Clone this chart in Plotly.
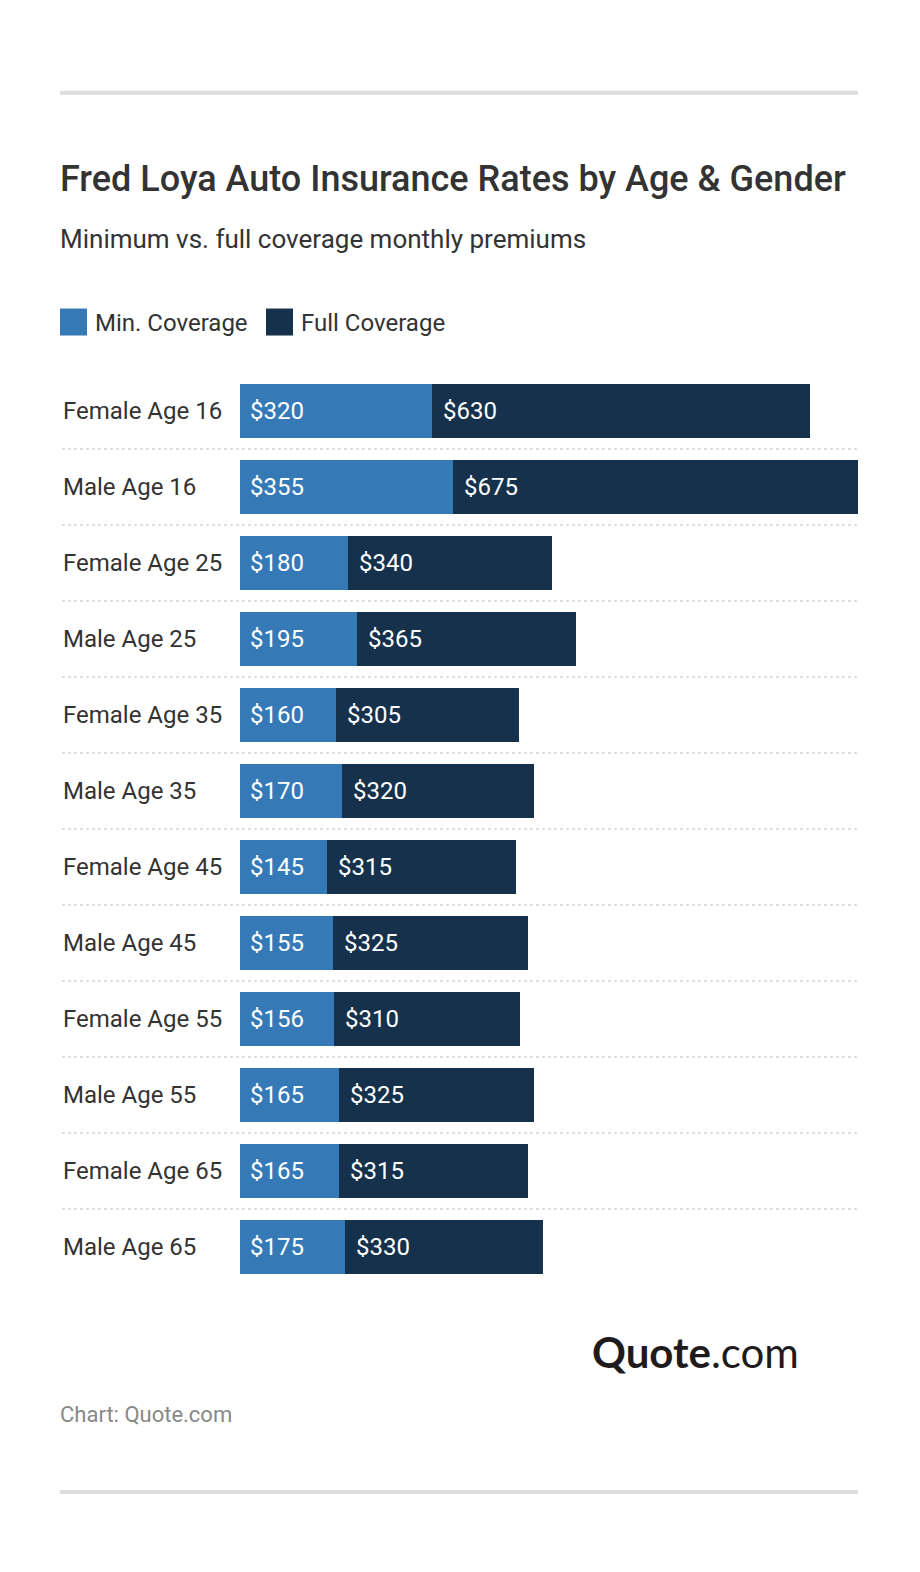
import plotly.graph_objects as go

categories = ["Female Age 16", "Male Age 16", "Female Age 25", "Male Age 25",
              "Female Age 35", "Male Age 35", "Female Age 45", "Male Age 45",
              "Female Age 55", "Male Age 55", "Female Age 65", "Male Age 65"]
min_coverage = [320, 355, 180, 195, 160, 170, 145, 155, 156, 165, 165, 175]
full_coverage = [630, 675, 340, 365, 305, 320, 315, 325, 310, 325, 315, 330]
series_names = ["Min. Coverage", "Full Coverage"]
colors = ["#357ab7", "#15314b"]

OFF = 8  # page body margin
W, H = 920 - 2 * OFF, 1572 - 2 * OFF
L, R = 240 - OFF, 858 - OFF
T, B = 372.5 - OFF, 1285 - OFF

def px(x):
    return (x - OFF - L) / (R - L)

def py(y):
    return (B - (y - OFF)) / (B - T)

fig = go.Figure()
fig.add_trace(go.Bar(y=categories, x=min_coverage, name=series_names[0], orientation="h",
                     marker=dict(color=colors[0], line=dict(width=0)), width=0.7,
                     hoverinfo="x+y"))
fig.add_trace(go.Bar(y=categories, x=full_coverage, name=series_names[1], orientation="h",
                     marker=dict(color=colors[1], line=dict(width=0)), width=0.7,
                     hoverinfo="x+y"))

font = "Roboto, 'Noto Sans', sans-serif"
ann = []
shapes = []
for i, c in enumerate(categories):
    ann.append(dict(x=px(61), xref="paper", y=c, yref="y", text=c, showarrow=False,
                    xanchor="left", yanchor="middle", font=dict(family=font, size=24, color="#333333")))
    ann.append(dict(x=0, xref="x", y=c, yref="y", text=f"${min_coverage[i]}", showarrow=False,
                    xanchor="left", yanchor="middle", xshift=8,
                    font=dict(family=font, size=24, color="#ffffff")))
    ann.append(dict(x=min_coverage[i], xref="x", y=c, yref="y", text=f"${full_coverage[i]}", showarrow=False,
                    xanchor="left", yanchor="middle", xshift=9,
                    font=dict(family=font, size=24, color="#ffffff")))
    if i < len(categories) - 1:
        shapes.append(dict(type="line", xref="paper", yref="y", x0=px(62), x1=px(858),
                           y0=i + 0.5, y1=i + 0.5,
                           line=dict(color="#d6d6d6", width=1.5, dash="dot")))

# rules
for yy in (92, 1492):
    shapes.append(dict(type="line", xref="paper", yref="paper", x0=px(60), x1=px(858),
                       y0=py(yy), y1=py(yy), line=dict(color="#dddddd", width=4)))

# legend
leg = [(60, 93), (266, 299)]
for k, (sx, tx) in enumerate(leg):
    shapes.append(dict(type="rect", xref="paper", yref="paper", x0=px(sx), x1=px(sx + 27),
                       y0=py(335), y1=py(308), fillcolor=colors[k], line=dict(width=0)))
    ann.append(dict(x=px(tx), xref="paper", y=py(322), yref="paper", text=series_names[k], showarrow=False,
                    xanchor="left", yanchor="middle", font=dict(family=font, size=24, color="#333333")))

ann.append(dict(x=px(58), xref="paper", y=py(178), yref="paper",
                text="Fred Loya Auto Insurance Rates by Age & Gender", showarrow=False,
                xanchor="left", yanchor="middle",
                font=dict(family=font, size=36, color="#333333", weight=500)))
ann.append(dict(x=px(58), xref="paper", y=py(238), yref="paper",
                text="Minimum vs. full coverage monthly premiums", showarrow=False,
                xanchor="left", yanchor="middle", font=dict(family=font, size=26, color="#333333")))
ann.append(dict(x=px(801), xref="paper", y=py(1352), yref="paper",
                text="<b>Quote</b>.com", showarrow=False,
                xanchor="right", yanchor="middle", font=dict(family="Lato, sans-serif", size=42, color="#1f1b1c")))
ann.append(dict(x=px(58), xref="paper", y=py(1415), yref="paper",
                text="Chart: Quote.com", showarrow=False,
                xanchor="left", yanchor="middle", font=dict(family=font, size=22, color="#888888")))

fig.update_layout(
    width=W, height=H, barmode="stack", showlegend=False,
    margin=dict(l=L, r=W - R, t=T, b=H - B, pad=0),
    paper_bgcolor="#ffffff", plot_bgcolor="#ffffff",
    xaxis=dict(range=[0, 1030], visible=False, fixedrange=True),
    yaxis=dict(categoryorder="array", categoryarray=categories, autorange="reversed",
               showticklabels=False, showgrid=False, zeroline=False, showline=False,
               range=[len(categories) - 0.5, -0.5]),
    annotations=ann, shapes=shapes,
    font=dict(family=font),
)
fig.write_html("out.html")
